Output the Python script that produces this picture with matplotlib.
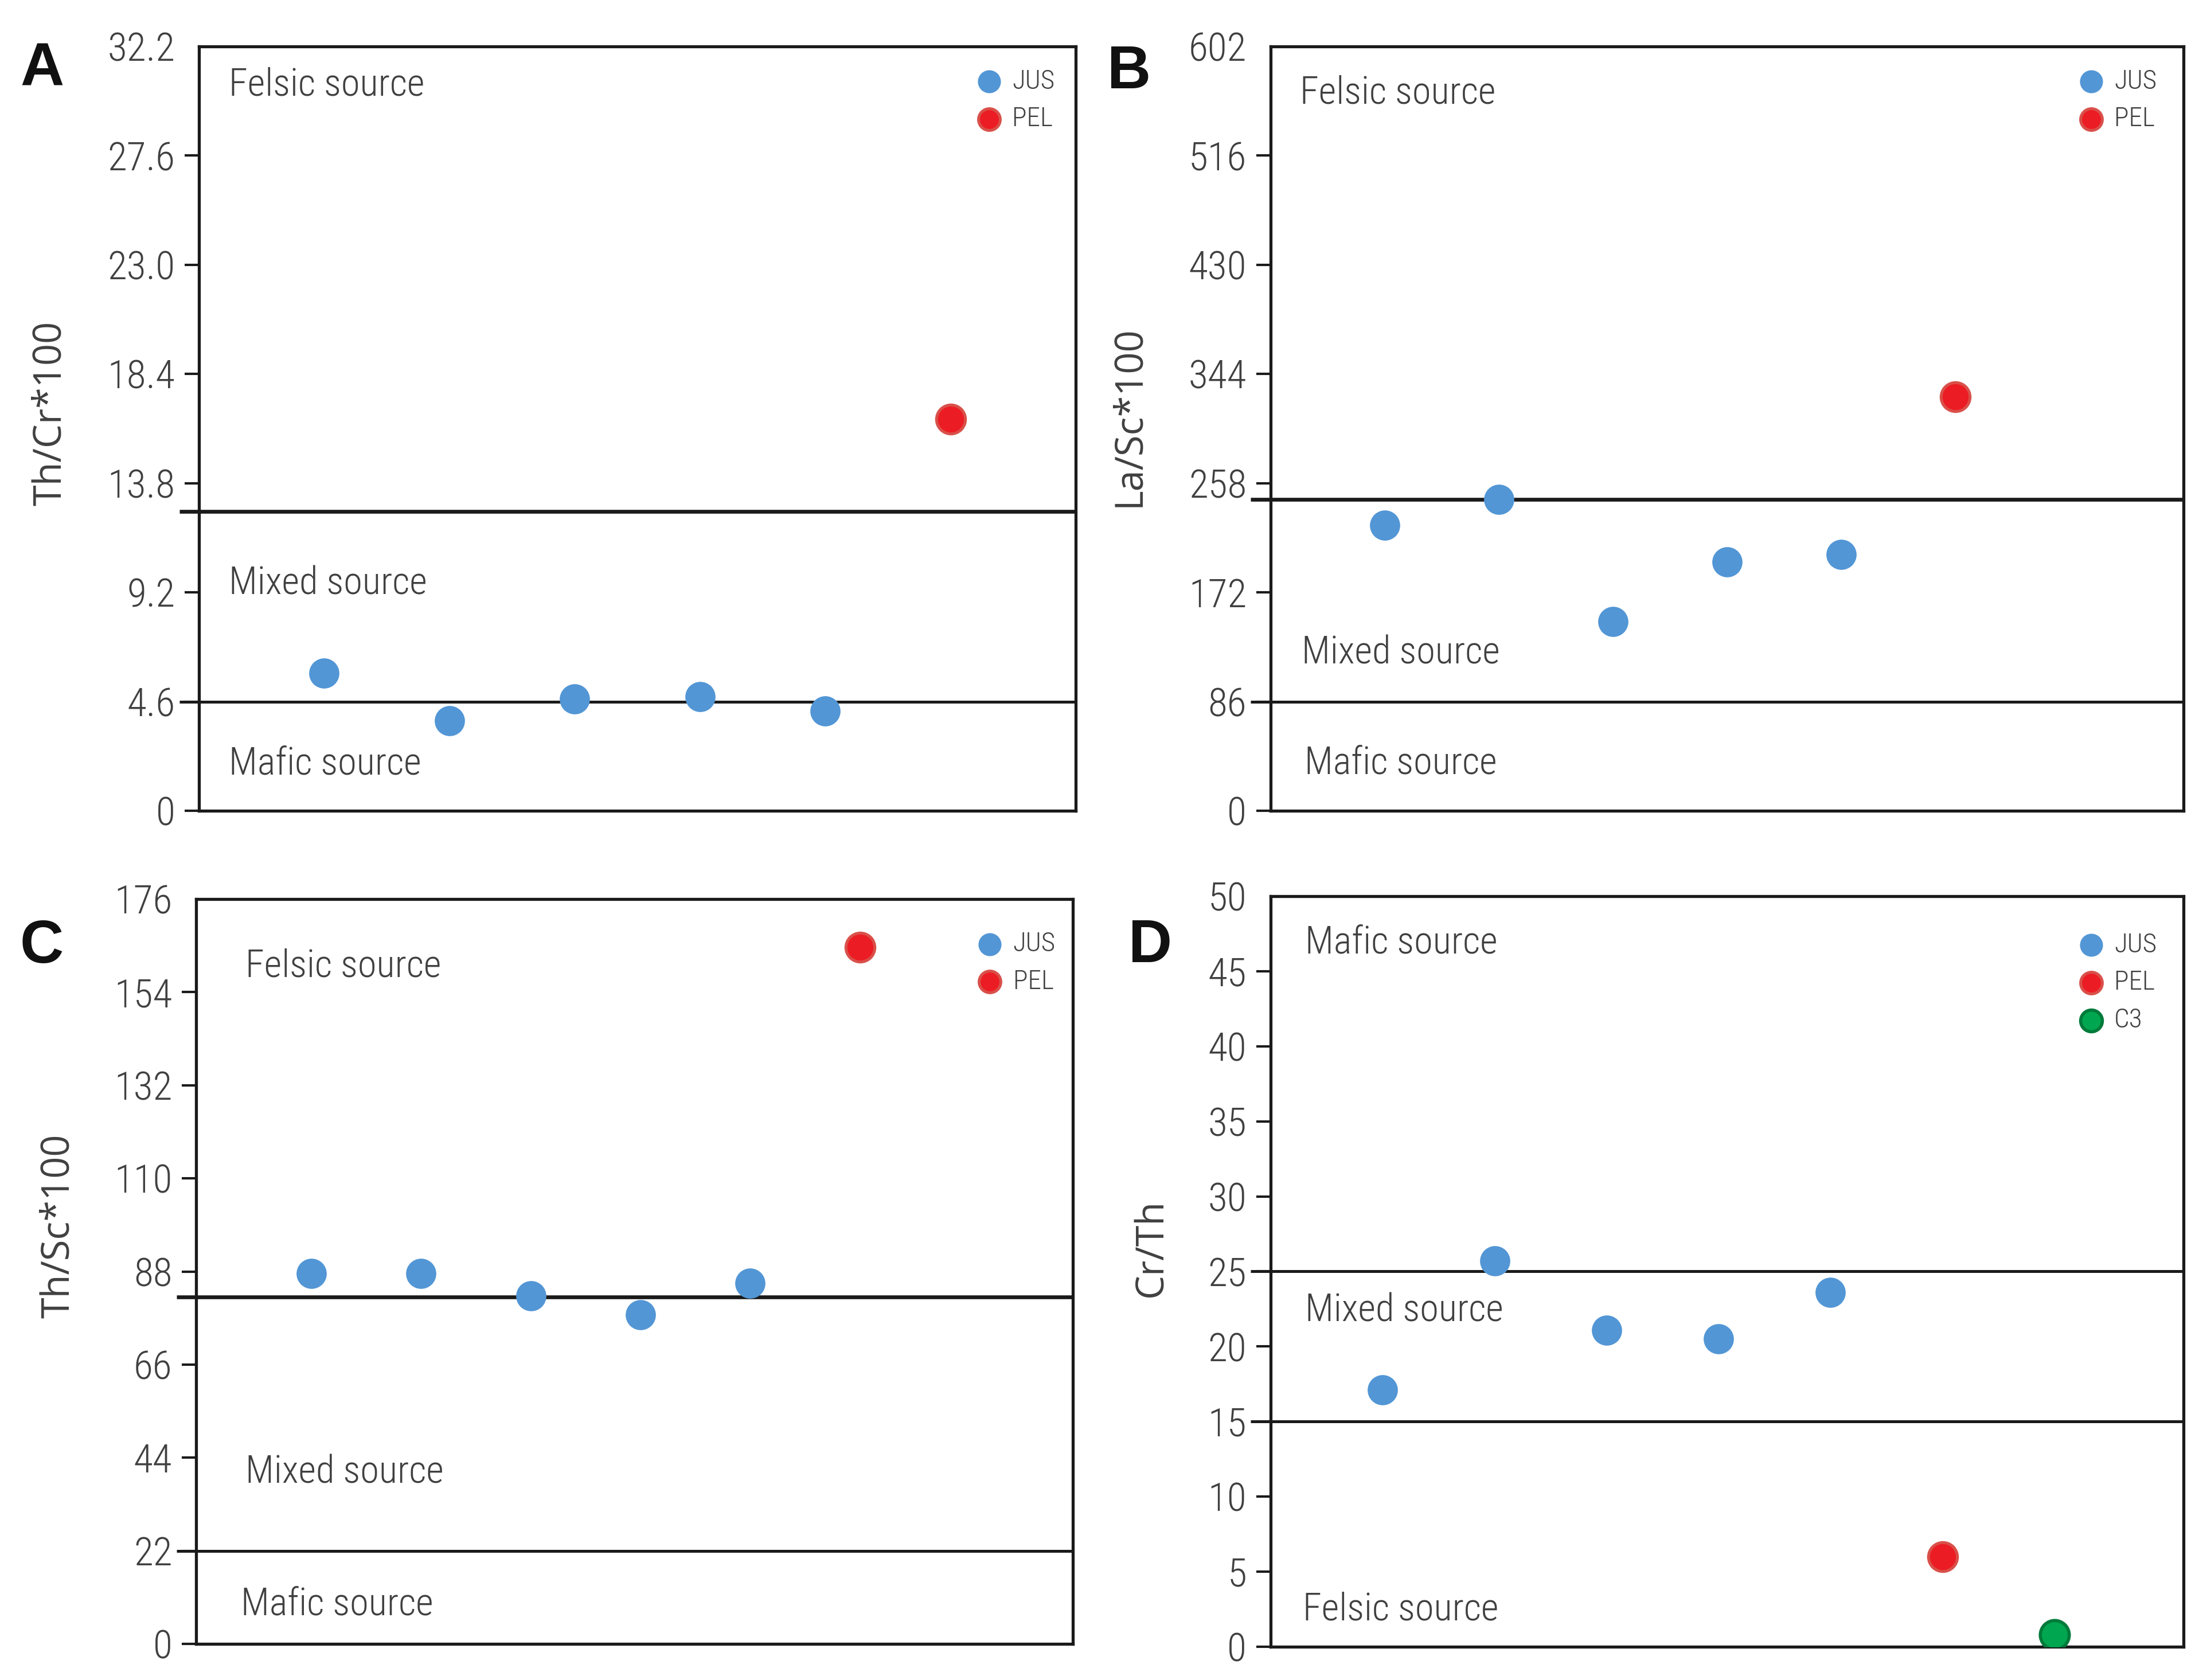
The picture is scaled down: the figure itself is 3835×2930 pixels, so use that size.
import matplotlib
matplotlib.use("Agg")
import matplotlib.pyplot as plt
from matplotlib import font_manager as fm

# ---------------- data ----------------
jus_x = [1, 2, 3, 4, 5]
pel_x = [6]
c3_x = [7]

A_jus = [5.8, 3.8, 4.7, 4.8, 4.2]
A_pel = [16.5]
A_lines = [12.6, 4.6]
A_ticks = [0, 4.6, 9.2, 13.8, 18.4, 23.0, 27.6, 32.2]
A_ticklabels = ["0", "4.6", "9.2", "13.8", "18.4", "23.0", "27.6", "32.2"]

B_jus = [225, 245, 149, 196, 202]
B_pel = [326]
B_lines = [245, 86]
B_ticks = [0, 86, 172, 258, 344, 430, 516, 602]
B_ticklabels = ["0", "86", "172", "258", "344", "430", "516", "602"]

C_jus = [87.5, 87.5, 82.3, 77.8, 85.2]
C_pel = [164.7]
C_lines = [82, 22]
C_ticks = [0, 22, 44, 66, 88, 110, 132, 154, 176]
C_ticklabels = ["0", "22", "44", "66", "88", "110", "132", "154", "176"]

D_jus = [17.1, 25.7, 21.1, 20.5, 23.6]
D_pel = [6.0]
D_c3 = [0.8]
D_lines = [25, 15]
D_ticks = [0, 5, 10, 15, 20, 25, 30, 35, 40, 45, 50]
D_ticklabels = ["0", "5", "10", "15", "20", "25", "30", "35", "40", "45", "50"]

ylabels = ["Th/Cr*100", "La/Sc*100", "Th/Sc*100", "Cr/Th"]
letters = ["A", "B", "C", "D"]
region_A = ["Felsic source", "Mixed source", "Mafic source"]
region_B = ["Felsic source", "Mixed source", "Mafic source"]
region_C = ["Felsic source", "Mixed source", "Mafic source"]
region_D = ["Mafic source", "Mixed source", "Felsic source"]
series_names = ["JUS", "PEL", "C3"]

# ---------------- fonts ----------------
def pick(names):
    for n in names:
        try:
            fm.findfont(fm.FontProperties(family=n), fallback_to_default=False)
            return n
        except Exception:
            pass
    return "DejaVu Sans"

NARROW = pick(["Liberation Sans Narrow", "Roboto Condensed", "Liberation Sans"])
LABELF = pick(["Open Sans", "Noto Sans", "DejaVu Sans"])
BOLDF = pick(["Liberation Sans", "DejaVu Sans"])

TXT = "#404040"
BLUE = "#5296d5"
RED = "#ec1c24"
RED_E = "#d9504a"
GREEN = "#00a650"
GREEN_E = "#007a3a"

plt.rcParams["font.family"] = [NARROW, "DejaVu Sans"]

fig = plt.figure(figsize=(19.175, 14.65), dpi=200)
fig.patch.set_facecolor("white")

# axes rectangles [left, bottom, width, height]
rects = [
    [0.0905, 0.5174, 0.3987, 0.4550],
    [0.5778, 0.5174, 0.4151, 0.4550],
    [0.0892, 0.0215, 0.3987, 0.4433],
    [0.5778, 0.0198, 0.4151, 0.4468],
]

panels = [
    dict(jus=A_jus, pel=A_pel, c3=None, lines=A_lines, lw=[2.4, 1.8], ticks=A_ticks, tl=A_ticklabels,
         ylim=(0, 32.2), xlim=(0, 7), regions=region_A,
         rpos=[(0.034, 0.949), (0.034, 0.297), (0.034, 0.061)],
         ylab=(-0.147, 0.52), leg=(0.889, 0.971)),
    dict(jus=B_jus, pel=B_pel, c3=None, lines=B_lines, lw=[2.4, 1.8], ticks=B_ticks, tl=B_ticklabels,
         ylim=(0, 602), xlim=(0, 8), regions=region_B,
         rpos=[(0.032, 0.939), (0.034, 0.206), (0.037, 0.062)],
         ylab=(-0.134, 0.516), leg=(0.887, 0.971)),
    dict(jus=C_jus, pel=C_pel, c3=None, lines=C_lines, lw=[2.4, 1.8], ticks=C_ticks, tl=C_ticklabels,
         ylim=(0, 176), xlim=(-0.05, 7.94), regions=region_C,
         rpos=[(0.056, 0.910), (0.056, 0.230), (0.051, 0.053)],
         ylab=(-0.135, 0.561), leg=(0.893, 0.957)),
    dict(jus=D_jus, pel=D_pel, c3=None if False else D_c3, lines=D_lines, lw=[1.8, 1.8], ticks=D_ticks,
         tl=D_ticklabels, ylim=(0, 50), xlim=(0, 8.15), regions=region_D,
         rpos=[(0.038, 0.938), (0.038, 0.447), (0.035, 0.049)],
         ylab=(-0.109, 0.531), leg=(0.887, 0.952)),
]
panels[0]["c3"] = None
panels[1]["c3"] = None
panels[2]["c3"] = None

letter_pos = [(73, 122), (1969, 127), (73, 1651), (2006, 1651)]
W, H = 3835, 2930

for i, p in enumerate(panels):
    ax = fig.add_axes(rects[i])
    ax.set_facecolor("white")
    ax.set_xlim(*p["xlim"])
    ax.set_ylim(*p["ylim"])
    ax.set_xticks([])
    ax.set_yticks(p["ticks"])
    ax.set_yticklabels(p["tl"])
    ax.tick_params(axis="y", direction="out", length=9, width=1.5, color="#1a1a1a",
                   labelsize=25, labelcolor=TXT, pad=6)
    for lab in ax.get_yticklabels():
        lab.set_fontweight("light")
    for s in ax.spines.values():
        s.set_color("#1a1a1a")
        s.set_linewidth(1.9)
    # hide top tick mark
    ax.yaxis.get_major_ticks()[-1].tick1line.set_visible(False)

    # threshold lines (extending a bit left of the axis)
    for yv, lw in zip(p["lines"], p["lw"]):
        ax.plot([-0.022, 1.0], [yv, yv], transform=ax.get_yaxis_transform(),
                color="#1a1a1a", lw=lw, clip_on=False, zorder=2, solid_capstyle="butt")

    h1 = ax.scatter(jus_x, p["jus"], s=330, color=BLUE, edgecolor=BLUE, linewidth=0.8,
                    zorder=3, label=series_names[0])
    h2 = ax.scatter(pel_x, p["pel"], s=330, color=RED, edgecolor=RED_E, linewidth=1.8,
                    zorder=3, label=series_names[1])
    handles = [h1, h2]
    if p["c3"] is not None:
        h3 = ax.scatter(c3_x, p["c3"], s=330, color=GREEN, edgecolor=GREEN_E, linewidth=2.0,
                        zorder=3, label=series_names[2])
        handles.append(h3)

    leg = ax.legend(handles=handles, loc="upper left", bbox_to_anchor=p["leg"],
                    frameon=False, borderpad=0, borderaxespad=0, handlelength=0.8,
                    handletextpad=0.45, labelspacing=0.46, markerscale=0.75,
                    prop={"family": NARROW, "size": 17, "weight": "light"})
    for t in leg.get_texts():
        t.set_color(TXT)

    for txt, (xx, yy) in zip(p["regions"], p["rpos"]):
        ax.text(xx, yy, txt, transform=ax.transAxes, ha="left", va="center",
                fontsize=24, color=TXT, family=NARROW, fontweight="light")

    ax.set_ylabel(ylabels[i], fontsize=24, color=TXT, family=LABELF)
    ax.yaxis.set_label_coords(*p["ylab"])

    lx, ly = letter_pos[i]
    fig.text(lx / W, 1 - ly / H, letters[i], ha="center", va="center",
             fontsize=38, fontweight="bold", color="#111111", family=BOLDF)

fig.savefig("out.png", dpi=200, facecolor="white")
